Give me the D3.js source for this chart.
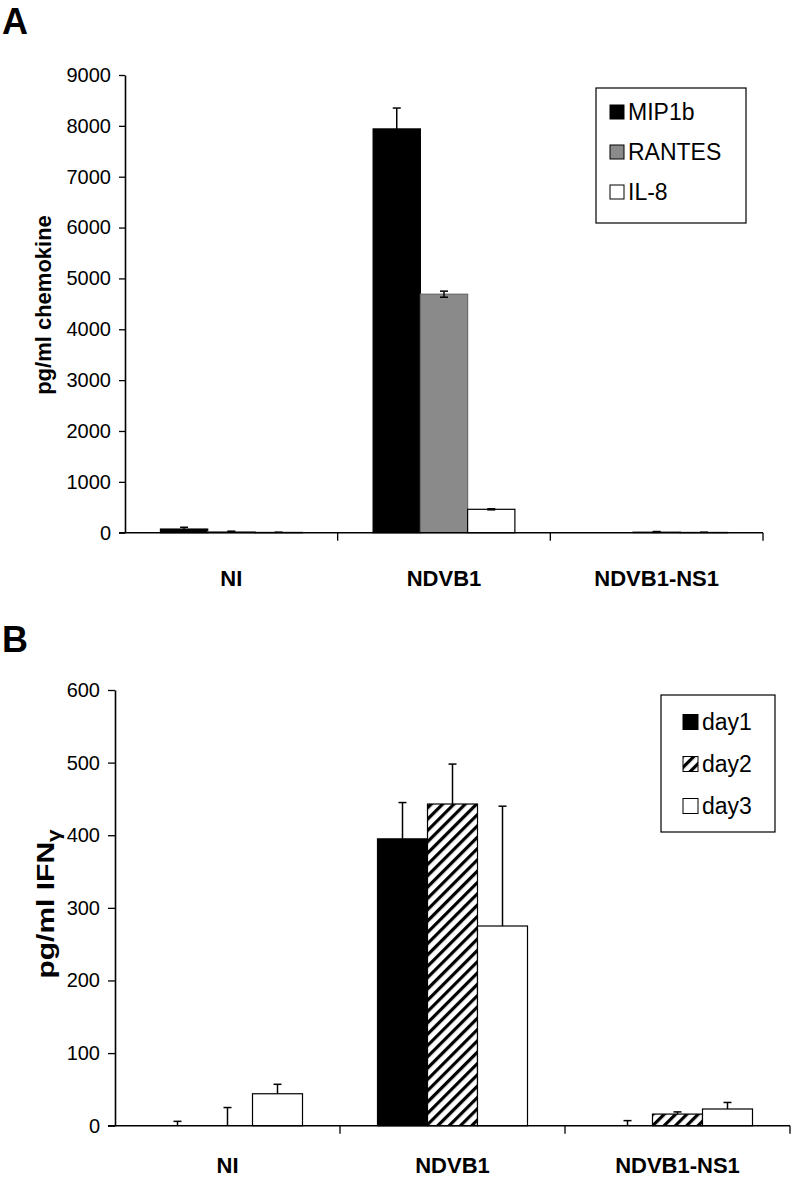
<!DOCTYPE html>
<html><head><meta charset="utf-8">
<script src="https://cdn.jsdelivr.net/npm/d3@7"></script>
<style>body{margin:0;background:#fff}svg{display:block}text{font-family:Arial,"Liberation Sans",sans-serif;fill:#000}</style>
</head><body>
<script>
// Panel A data
const categoriesA = ["NI", "NDVB1", "NDVB1-NS1"];
const seriesA = ["MIP1b", "RANTES", "IL-8"];
const mip1b = [72, 7940, 0];
const rantes = [20, 4690, 15];
const il8 = [5, 460, 5];
const mip1bErr = [35, 410, 0];
const rantesErr = [10, 60, 8];
const il8Err = [5, 10, 5];
const ticksA = [0, 1000, 2000, 3000, 4000, 5000, 6000, 7000, 8000, 9000];

// Panel B data
const categoriesB = ["NI", "NDVB1", "NDVB1-NS1"];
const seriesB = ["day1", "day2", "day3"];
const day1 = [0, 395, 0];
const day2 = [0, 443, 16];
const day3 = [44, 275, 23];
const day1Err = [6, 50, 7];
const day2Err = [25, 55, 3];
const day3Err = [13, 165, 9];
const ticksB = [0, 100, 200, 300, 400, 500, 600];

const W = 800, H = 1184;
const svg = d3.select("body").append("svg").attr("width", W).attr("height", H);

const defs = svg.append("defs");
const pat = defs.append("pattern").attr("id", "hatch").attr("patternUnits", "userSpaceOnUse")
  .attr("width", 8).attr("height", 8).attr("patternTransform", "rotate(45)");
pat.append("rect").attr("width", 8).attr("height", 8).attr("fill", "#fff");
pat.append("rect").attr("x", 0).attr("y", 0).attr("width", 3.2).attr("height", 8).attr("fill", "#000");

function panel(cfg) {
  const g = svg.append("g");
  const x = d3.scaleBand().domain(cfg.categories).range([cfg.x0, cfg.x1]).paddingInner(0).paddingOuter(0);
  const xs = d3.scaleBand().domain(cfg.series).range([0, x.bandwidth()]).paddingInner(0).paddingOuter(0.75);
  const y = d3.scaleLinear().domain([0, cfg.ymax]).range([cfg.yb, cfg.yt]);

  cfg.series.forEach((s, si) => {
    const vals = cfg.values[si], errs = cfg.errors[si];
    cfg.categories.forEach((c, ci) => {
      const v = vals[ci];
      const bx = x(c) + xs(s);
      if (v > 0) {
        g.append("rect").attr("x", bx).attr("y", y(v)).attr("width", xs.bandwidth())
          .attr("height", y(0) - y(v)).attr("fill", cfg.fills[si])
          .attr("stroke", cfg.strokes[si]).attr("stroke-width", 1.2);
      }
      const e = errs[ci];
      if (e > 0) {
        const cx = bx + xs.bandwidth() / 2;
        const lo = cfg.both ? Math.max(0, v - e) : v;
        g.append("line").attr("x1", cx).attr("x2", cx).attr("y1", y(lo)).attr("y2", y(v + e))
          .attr("stroke", "#000").attr("stroke-width", 1.5);
        g.append("line").attr("x1", cx - 4).attr("x2", cx + 4).attr("y1", y(v + e)).attr("y2", y(v + e))
          .attr("stroke", "#000").attr("stroke-width", 1.5);
        if (cfg.both && v - e > 0) {
          g.append("line").attr("x1", cx - 4).attr("x2", cx + 4).attr("y1", y(v - e)).attr("y2", y(v - e))
            .attr("stroke", "#000").attr("stroke-width", 1.5);
        }
      }
    });
  });

  const ya = d3.axisLeft(y).tickValues(cfg.ticks).tickSize(cfg.tickLen).tickSizeOuter(0).tickPadding(cfg.tickPad).tickFormat(d3.format("d"));
  const yg = g.append("g").attr("transform", `translate(${cfg.x0},0)`).call(ya);
  yg.select(".domain").attr("stroke", "#000").attr("stroke-width", 1.6);
  yg.selectAll(".tick line").attr("stroke", "#000").attr("stroke-width", 1.3);
  yg.selectAll(".tick text").attr("font-size", cfg.tickFont).attr("font-family", "Arial, 'Liberation Sans', sans-serif").attr("fill", "#000");

  g.append("line").attr("x1", cfg.x0 - cfg.tickLen).attr("x2", cfg.x1).attr("y1", y(0)).attr("y2", y(0))
    .attr("stroke", "#000").attr("stroke-width", 1.4);
  cfg.categories.forEach(c => {
    const bx = x(c) + x.bandwidth();
    g.append("line").attr("x1", bx).attr("x2", bx).attr("y1", y(0)).attr("y2", y(0) + 8)
      .attr("stroke", "#000").attr("stroke-width", 1.3);
    g.append("text").attr("x", x(c) + x.bandwidth() / 2).attr("y", cfg.catY).attr("text-anchor", "middle")
      .attr("font-size", 22).attr("font-weight", "bold").text(c);
  });

  const t = g.append("text").attr("transform", `translate(${cfg.titleX},${cfg.titleY}) rotate(-90) scale(${cfg.titleStretch},1)`)
    .attr("text-anchor", "middle").attr("font-size", cfg.titleFont).attr("font-weight", "bold");
  t.append("tspan").text(cfg.title);
  if (cfg.titleSub) t.append("tspan").attr("font-size", cfg.titleFont * 0.75).attr("dy", 6).text(cfg.titleSub);

  g.append("text").attr("x", 2).attr("y", cfg.letterY).attr("font-size", 36).attr("font-weight", "bold").text(cfg.letter);

  const L = cfg.legend;
  g.append("rect").attr("x", L.x).attr("y", L.y).attr("width", L.w).attr("height", L.h)
    .attr("fill", "#fff").attr("stroke", "#000").attr("stroke-width", 1.2);
  cfg.series.forEach((s, si) => {
    const cy = L.y + L.first + si * L.step;
    g.append("rect").attr("x", L.x + L.sq).attr("y", cy - L.size / 2).attr("width", L.size).attr("height", L.size)
      .attr("fill", cfg.fills[si]).attr("stroke", "#000").attr("stroke-width", 1);
    g.append("text").attr("x", L.x + L.sq + L.size + 4).attr("y", cy + 8).attr("font-size", 23).text(s);
  });
}

panel({
  categories: categoriesA, series: seriesA,
  values: [mip1b, rantes, il8], errors: [mip1bErr, rantesErr, il8Err],
  fills: ["#000", "#8a8a8a", "#fff"], strokes: ["#000", "#6a6a6a", "#000"],
  both: true,
  x0: 125, x1: 763, yt: 75, yb: 532.7, ymax: 9000, ticks: ticksA,
  tickLen: 6, tickPad: 8, tickFont: 20,
  catY: 586, title: "pg/ml chemokine", titleX: 51, titleY: 305, titleFont: 22, titleStretch: 1,
  letter: "A", letterY: 34,
  legend: { x: 596, y: 88, w: 150, h: 135, first: 24, step: 40, sq: 14, size: 14 }
});

panel({
  categories: categoriesB, series: seriesB,
  values: [day1, day2, day3], errors: [day1Err, day2Err, day3Err],
  fills: ["#000", "url(#hatch)", "#fff"], strokes: ["#000", "#000", "#000"],
  both: false,
  x0: 115, x1: 790, yt: 690, yb: 1125.7, ymax: 600, ticks: ticksB,
  tickLen: 7, tickPad: 8, tickFont: 20,
  catY: 1173, title: "pg/ml IFN", titleSub: "γ", titleX: 54, titleY: 904, titleFont: 24, titleStretch: 1.25,
  letter: "B", letterY: 652,
  legend: { x: 661, y: 695, w: 114, h: 137, first: 27, step: 42, sq: 22, size: 15 }
});
</script>
</body></html>
